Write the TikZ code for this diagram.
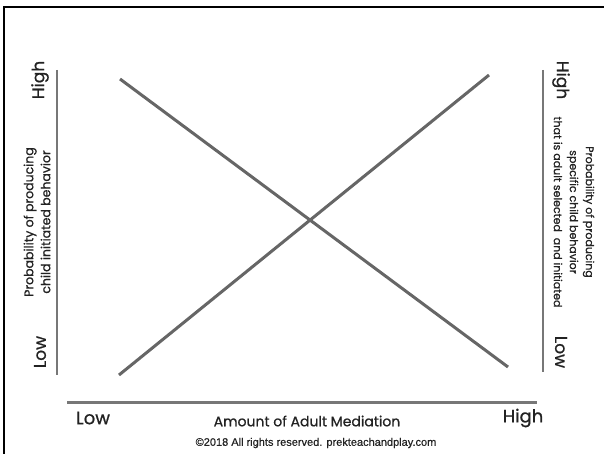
\documentclass[tikz,border=0pt]{standalone}
\usepackage{xcolor}
\usepackage{fontspec}
\setmainfont{Poppins}[FakeBold=0.8]
\newfontfamily\copyfont{Liberation Sans}[FakeBold=0.5]
\usepackage{tikz}
\usetikzlibrary{calc}

\definecolor{linegray}{HTML}{666666}
\definecolor{axisgray}{HTML}{777777}
\definecolor{textgray}{HTML}{222222}

\begin{document}
\begin{tikzpicture}[x=1pt,y=-1pt,
        axis/.style={line width=2pt, axisgray},
        trend/.style={line width=3pt, linegray},
        level/.style={font=\fontsize{17}{17}\selectfont, inner sep=0pt, text=textgray}]
        \useasboundingbox (0,0) rectangle (604,454);
        \clip (0,0) rectangle (604,454);

        % frame
        \draw[line width=2.5pt, black] (4,7) rectangle (620,470);

        % coordinates
        \coordinate (yl1) at (57,70);
        \coordinate (yl2) at (57,375);
        \coordinate (yr1) at (543,70);
        \coordinate (yr2) at (543,372);
        \coordinate (xb1) at (67,402);
        \coordinate (xb2) at (537,402);

        % axes
        \draw[axis] (yl1) -- (yl2);
        \draw[axis] (yr1) -- (yr2);
        \draw[line width=3pt, axisgray] (xb1) -- (xb2);

        % coordinates
        \coordinate (d1) at (120,79);
        \coordinate (d2) at (508,367);
        \coordinate (a1) at (119,375);
        \coordinate (a2) at (489,75);

        % lines
        \draw[trend] (d1) -- (d2);
        \draw[trend] (a1) -- (a2);

        % Text
        \node[level, rotate=90] (lhigh) at (40,80) {High};
        \node[level, rotate=90] (llow) at (40,352) {Low};
        \node[level, rotate=-90] (rhigh) at (561,80) {High};
        \node[level, rotate=-90] (rlow) at (561,352) {Low};
        \node[level, font=\fontsize{18}{18}\selectfont] (blow) at (93,418) {Low};
        \node[level, font=\fontsize{18}{18}\selectfont] (bhigh) at (523,418) {High};

        % Text
        \node[rotate=90, align=center, inner sep=0pt, text=textgray,
              font=\fontsize{12.5}{17}\selectfont] (lname) at (37,222)
              {Probability of producing\\child initiated behavior};
        \node[rotate=-90, align=center, inner sep=0pt, text=textgray,
              font=\fontsize{11}{16}\selectfont] (rname) at (574,212)
              {Probability of producing\\specific child behavior\\that is adult selected\ \ and initiated};
        \node[inner sep=0pt, text=textgray, font=\fontsize{14}{14}\selectfont] (xname) at (307,421)
              {Amount of Adult Mediation};
        \node[inner sep=0pt, text=textgray, font=\copyfont\fontsize{11}{11}\selectfont] (copy) at (316,443)
              {\textcopyright2018 All rights reserved. prekteachandplay.com};
\end{tikzpicture}
\end{document}
